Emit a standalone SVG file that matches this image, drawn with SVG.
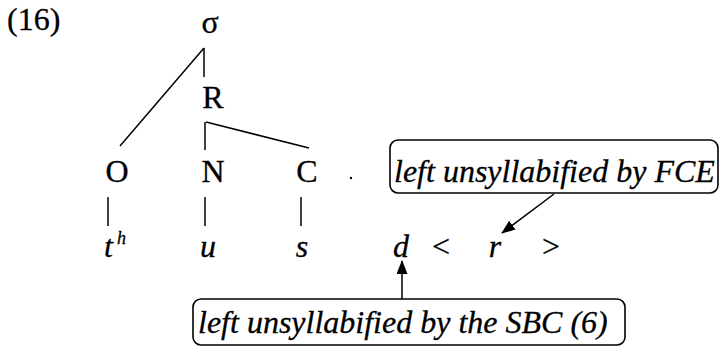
<svg xmlns="http://www.w3.org/2000/svg" width="721" height="346" viewBox="0 0 721 346">
<style>
.t{font-family:"Liberation Serif","Times New Roman",serif;font-size:32px;fill:#000;stroke:#000;stroke-width:0.3}
.i{font-family:"Liberation Serif","Times New Roman",serif;font-size:32px;font-style:italic;fill:#000;stroke:#000;stroke-width:0.3}
.m{text-anchor:middle}
.ln{stroke:#000;stroke-width:1.5;fill:none}
.box{stroke:#000;stroke-width:1.6;fill:#fff}
</style>
<defs>
<marker id="ah" markerWidth="14" markerHeight="11" refX="13" refY="5.5" orient="auto" markerUnits="userSpaceOnUse">
<path d="M0,0 L14,5.5 L0,11 Z" fill="#000"/>
</marker>
</defs>
<text class="t" x="7" y="30">(16)</text>
<g id="connectors">
<line class="ln" x1="204" y1="48" x2="204" y2="77"/>
<line class="ln" x1="204" y1="48" x2="120" y2="146"/>
<line class="ln" x1="205" y1="122" x2="205" y2="150"/>
<line class="ln" x1="206" y1="122" x2="309" y2="148"/>
<line class="ln" x1="108" y1="197" x2="108" y2="226"/>
<line class="ln" x1="205" y1="197" x2="205" y2="226"/>
<line class="ln" x1="301" y1="197" x2="301" y2="226"/>
<line class="ln" x1="554" y1="194" x2="502" y2="233" marker-end="url(#ah)"/>
<line class="ln" x1="402" y1="299" x2="402" y2="261" marker-end="url(#ah)"/>
</g>
<g id="sigma"><text class="t m" x="210" y="33">σ</text></g>
<g id="R"><text class="t m" x="213" y="108">R</text></g>
<g id="O"><text class="t m" x="117" y="182">O</text></g>
<g id="N"><text class="t m" x="213" y="182">N</text></g>
<g id="C"><text class="t m" x="307" y="182">C</text></g>
<circle cx="351" cy="178" r="1.2" fill="#000"/>
<g id="th"><text class="i" x="104" y="257">t</text><text class="i" x="117" y="244" style="font-size:18px">h</text></g>
<g id="u"><text class="i m" x="208" y="257">u</text></g>
<g id="s"><text class="i m" x="302" y="257">s</text></g>
<g id="d"><text class="i m" x="401" y="257">d</text></g>
<g id="lt"><text class="t m" x="441" y="257">&lt;</text></g>
<g id="r"><text class="i m" x="495" y="257">r</text></g>
<g id="gt"><text class="t m" x="551" y="257">&gt;</text></g>
<g id="fce">
<rect class="box" x="390" y="140" width="328" height="53" rx="8"/>
<text class="i" x="394" y="182">left unsyllabified by FCE</text>
</g>
<g id="sbc">
<rect class="box" x="193" y="299" width="432" height="46" rx="8"/>
<text class="i" x="198" y="333">left unsyllabified by the SBC (6)</text>
</g>
</svg>
